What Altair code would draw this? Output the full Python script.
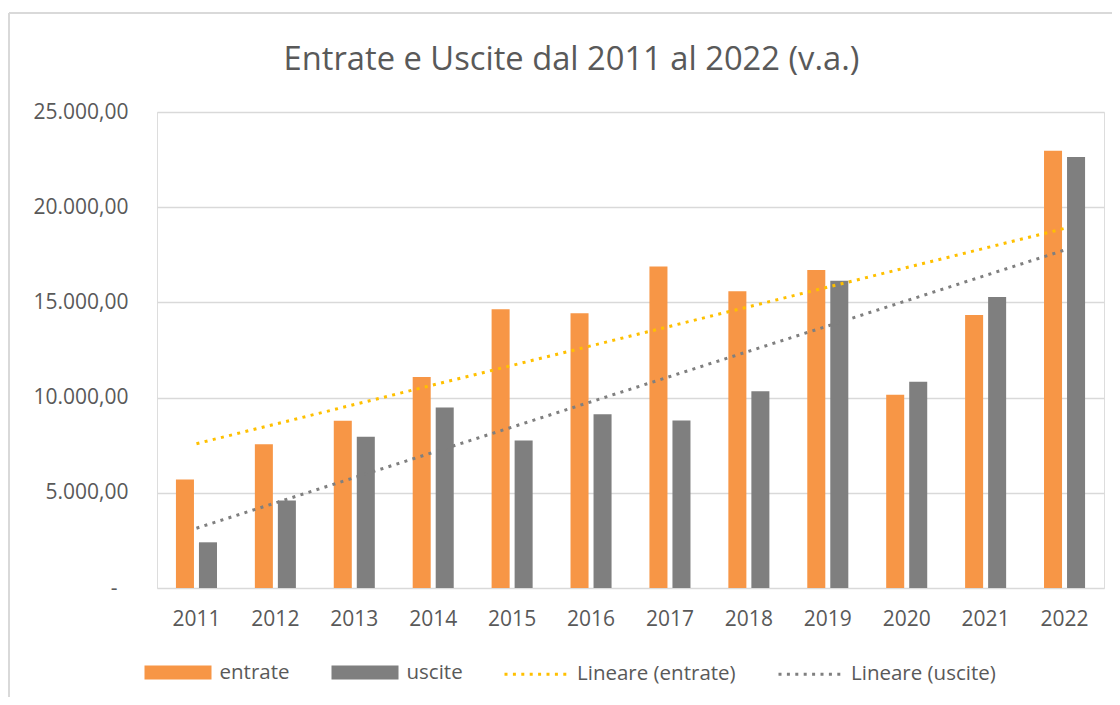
import altair as alt
import pandas as pd

# ---- data ----
anni = [2011, 2012, 2013, 2014, 2015, 2016, 2017, 2018, 2019, 2020, 2021, 2022]
entrate = [5700, 7550, 8780, 11080, 14640, 14430, 16880, 15580, 16700, 10150, 14340, 22960]
uscite = [2400, 4600, 7940, 9480, 7750, 9120, 8800, 10340, 16140, 10830, 15280, 22640]
serie = ["entrate", "uscite"]
tendenze = ["Lineare (entrate)", "Lineare (uscite)"]
colori_barre = ["#F79646", "#7F7F7F"]
colori_tendenze = ["#FFC000", "#7F7F7F"]
y_ticks = [0, 5000, 10000, 15000, 20000, 25000]
titolo = "Entrate e Uscite dal 2011 al 2022 (v.a.)"

rows = []
for a, e, u in zip(anni, entrate, uscite):
    rows.append({"anno": a, "serie": serie[0], "valore": e})
    rows.append({"anno": a, "serie": serie[1], "valore": u})
df = pd.DataFrame(rows)

FONT = "Open Sans"
TXT = "#595959"
GRID = "#D9D9D9"

label_expr = (
    "datum.value == 0 ? '-' : "
    "replace(replace(replace(format(datum.value, ',.2f'), ',', '#'), '.', ','), '#', '.')"
)

x_enc = alt.X(
    "anno:O",
    scale=alt.Scale(paddingInner=0.48, paddingOuter=0.24),
    axis=alt.Axis(title=None, labelAngle=0, domain=False, ticks=False, grid=False,
                  labelPadding=20, labelFontSize=21, labelColor=TXT, labelFont=FONT),
)
y_enc = alt.Y(
    "valore:Q",
    scale=alt.Scale(domain=[0, 25000], nice=False),
    axis=alt.Axis(title=None, values=y_ticks, domain=False, ticks=False,
                  labelPadding={"condition": {"test": "datum.value == 0", "value": 40}, "value": 29},
                  labelFontSize=21, labelColor=TXT, labelFont=FONT,
                  gridColor=GRID, gridWidth=1.4, labelExpr=label_expr),
)

base = alt.Chart(df)

bars = base.mark_bar().encode(
    x=x_enc,
    xOffset=alt.XOffset("serie:N", scale=alt.Scale(paddingInner=0.217, paddingOuter=0)),
    y=y_enc,
    fill=alt.Fill(
        "serie:N",
        scale=alt.Scale(domain=serie, range=colori_barre),
        legend=alt.Legend(
            title=None, orient="none", legendX=-12.5, legendY=527, direction="horizontal",
            symbolType="M-1,-0.209H1V0.209H-1Z", symbolSize=4489, symbolStrokeWidth=0,
            symbolOpacity=1, labelFontSize=20.5, labelFont=FONT, labelColor=TXT,
            labelOffset=8, columnPadding=42,
        ),
    ),
)

trend = (
    base.transform_regression("anno", "valore", groupby=["serie"])
    .transform_calculate(tendenza="'Lineare (' + datum.serie + ')'")
    .mark_line(strokeWidth=3, strokeDash=[3, 5.4], strokeCap="butt")
    .encode(
        x=alt.X("anno:O"),
        y=alt.Y("valore:Q"),
        stroke=alt.Stroke(
            "tendenza:N",
            scale=alt.Scale(domain=tendenze, range=colori_tendenze),
            legend=alt.Legend(
                title=None, orient="none", legendX=346, legendY=527, direction="horizontal",
                symbolType="stroke", symbolSize=4489, symbolStrokeWidth=3,
                symbolDash=[3, 5.4], labelFontSize=20.5, labelFont=FONT, labelColor=TXT,
                labelOffset=4, columnPadding=36,
            ),
        ),
    )
)

frame_df = pd.DataFrame({"k": [0]})
frame_top = alt.Chart(frame_df).mark_rule(color=GRID, strokeWidth=2).encode(
    x=alt.value(-148), x2=alt.value(1000), y=alt.value(-99)
)
frame_left = alt.Chart(frame_df).mark_rule(color=GRID, strokeWidth=2).encode(
    x=alt.value(-148), y=alt.value(-99), y2=alt.value(700)
)

chart = (
    alt.layer(bars, trend, frame_top, frame_left)
    .properties(
        width=947,
        height=476,
        autosize=alt.AutoSizeParams(type="none"),
        padding={"left": 149, "top": 104, "right": 8, "bottom": 109},
        title=alt.TitleParams(
            text=titolo, fontSize=32.7, font=FONT, fontWeight="normal", color=TXT,
            anchor="middle", baseline="alphabetic", frame="group", offset=-91, dx=-59,
        ),
    )
    .configure_view(stroke=None)
    .configure(background="white")
)

chart.save("out.html", embed_options={"renderer": "svg", "actions": False})
